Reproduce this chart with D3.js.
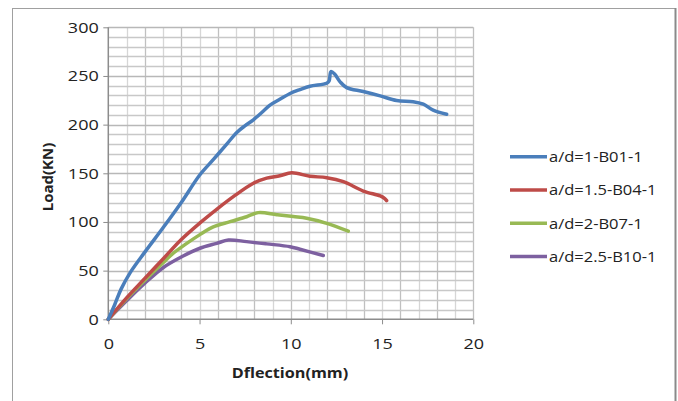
<!DOCTYPE html>
<html>
<head>
<meta charset="utf-8">
<script src="https://cdn.jsdelivr.net/npm/d3@7"></script>
<style>
  body { margin: 0; background: #fff; }
  text { font-family: "Open Sans", "DejaVu Sans", sans-serif; fill: #222; }
</style>
</head>
<body>
<div id="chart"></div>
<script>
// deflection (mm) / load (kN)
var b01x = [0, 0.35, 0.7, 1.2, 2.0, 3.0, 4.0, 5.0, 5.75, 6.49, 7.04, 7.5, 7.95, 8.5, 8.86, 9.4, 9.96, 10.5, 11.05, 11.97, 12.1, 12.2, 12.4, 12.7, 13.06, 13.97, 14.9, 15.8, 16.7, 17.26, 17.8, 18.54]
var b01y = [0, 15, 31, 48, 69, 94, 120, 148, 164, 180, 192, 199, 205, 214, 220, 226, 232, 236, 239.5, 242.5, 245, 254.5, 252, 244, 238, 234, 229.5, 224.7, 223.6, 221, 215, 210.7]

var b04x = [0, 1.0, 2.0, 3.0, 4.0, 5.02, 5.94, 6.85, 7.95, 8.68, 9.4, 10.05, 11.05, 11.97, 12.88, 13.97, 14.9, 15.15, 15.25]
var b04y = [0, 22, 42, 62, 82, 99, 113, 126, 139.8, 145, 147.5, 150.5, 147, 145.5, 141.4, 131.8, 126.7, 124, 121.9]

var b07x = [0, 1.0, 2.0, 3.0, 3.5, 4.3, 5.02, 5.75, 6.67, 7.58, 8.22, 9.23, 10.14, 10.87, 11.97, 13.15]
var b07y = [0, 21, 40, 58, 67, 78, 87, 95, 100.3, 105.4, 109.6, 107.5, 105.5, 103.8, 98.6, 90.5]

var b10x = [0, 1.0, 2.0, 3.0, 4.1, 5.02, 5.94, 6.58, 7.58, 8.68, 9.96, 10.5, 11.78]
var b10y = [0, 19, 37, 53, 65, 73, 78, 81.5, 79.8, 77.5, 74.6, 72, 65.5]

var seriesNames = ["a/d=1-B01-1", "a/d=1.5-B04-1", "a/d=2-B07-1", "a/d=2.5-B10-1"]
var seriesColors = ["#4a7ebb", "#be4b48", "#98b954", "#7d60a0"]
var xTicks = [0, 5, 10, 15, 20]
var yTicks = [0, 50, 100, 150, 200, 250, 300]

var W = 678, H = 401
var margin = {top: 27.3, left: 108.3, right: W - 473.3, bottom: H - 319.3}

var svg = d3.select("#chart").append("svg")
    .attr("width", W)
    .attr("height", H)

// outer frame
svg.append("rect")
    .attr("x", 12.5).attr("y", 8.5)
    .attr("width", 663).attr("height", 400)
    .attr("fill", "none")
    .attr("stroke", "#a0a0a0")
    .attr("stroke-width", 1)
svg.append("line")
    .attr("x1", 675.5).attr("x2", 675.5)
    .attr("y1", 8).attr("y2", H)
    .attr("stroke", "#8a8a8a").attr("stroke-width", 2)

var x = d3.scaleLinear().domain([0, 20]).range([margin.left, W - margin.right])
var y = d3.scaleLinear().domain([0, 300]).range([H - margin.bottom, margin.top])

// grid
var grid = svg.append("g")
grid.selectAll(".vgrid")
    .data(d3.range(1, 21))
    .enter().append("line")
    .attr("x1", function(d) {return Math.round(x(d)) + 0.5})
    .attr("x2", function(d) {return Math.round(x(d)) + 0.5})
    .attr("y1", y(300)).attr("y2", y(0))
    .attr("stroke", function(d) {return d % 2 ? "#d6d6d6" : "#c0c0c0"})
    .attr("stroke-width", 1.3)
grid.selectAll(".hgrid")
    .data(d3.range(10, 301, 10))
    .enter().append("line")
    .attr("x1", x(0)).attr("x2", x(20))
    .attr("y1", function(d) {return Math.round(y(d)) + 0.5})
    .attr("y2", function(d) {return Math.round(y(d)) + 0.5})
    .attr("stroke", function(d) {return d % 50 ? "#c8c8c8" : "#b8b8b8"})
    .attr("stroke-width", 1.3)

// axes
var xAxis = d3.axisBottom(x).tickValues(xTicks).tickSize(5).tickPadding(14)
var yAxis = d3.axisLeft(y).tickValues(yTicks).tickSize(5).tickPadding(3)

var gx = svg.append("g")
    .attr("transform", "translate(0," + y(0) + ")")
    .call(xAxis)
var gy = svg.append("g")
    .attr("transform", "translate(" + x(0) + ",0)")
    .call(yAxis)

;[gx, gy].forEach(function(g) {
  g.select(".domain").attr("stroke", "#8c8c8c").attr("stroke-width", 1.5)
  g.selectAll(".tick line").attr("stroke", "#8c8c8c")
  g.selectAll(".tick text")
    .style("font-size", "15px")
    .style("font-family", "'Open Sans', sans-serif")
    .attr("fill", "#222")
    .attr("transform", "scale(1.2,1)")
})
gx.select(".domain").attr("d", "M" + x(0) + ",0H" + x(20))
gy.select(".domain").attr("d", "M0," + y(0) + "V" + y(300))

// curves
var allX = [b01x, b04x, b07x, b10x]
var allY = [b01y, b04y, b07y, b10y]
var line = d3.line()
    .x(function(d) {return x(d[0])})
    .y(function(d) {return y(d[1])})
    .curve(d3.curveCatmullRom.alpha(0.5))

for (var i = allX.length - 1; i >= 0; i--) {
  var pts = allX[i].map(function(v, j) {return [v, allY[i][j]]})
  svg.append("path")
     .attr("d", line(pts))
     .attr("fill", "none")
     .attr("stroke", seriesColors[i])
     .attr("stroke-width", 3.5)
     .attr("stroke-linejoin", "round")
     .attr("stroke-linecap", "round")
}

// axis titles
svg.append("text")
   .attr("transform", "translate(290,378) scale(1.08,1)")
   .attr("text-anchor", "middle")
   .style("font-size", "15px")
   .style("font-weight", "bold")
   .text("Dflection(mm)")

svg.append("text")
   .attr("transform", "translate(53,177) rotate(-90)")
   .attr("text-anchor", "middle")
   .style("font-size", "15px")
   .style("font-weight", "bold")
   .text("Load(KN)")

// legend
var legend = svg.selectAll(".legend")
    .data(seriesNames)
    .enter().append("g")
    .attr("transform", function(d, i) {return "translate(510," + (156.7 + i * 33.3) + ")"})
legend.append("line")
    .attr("x1", 0).attr("x2", 37)
    .attr("stroke", function(d, i) {return seriesColors[i]})
    .attr("stroke-width", 3.5)
legend.append("text")
    .attr("transform", "translate(39,0) scale(1.1,1)")
    .attr("dy", "0.35em")
    .style("font-size", "15px")
    .text(function(d) {return d})
</script>
</body>
</html>
